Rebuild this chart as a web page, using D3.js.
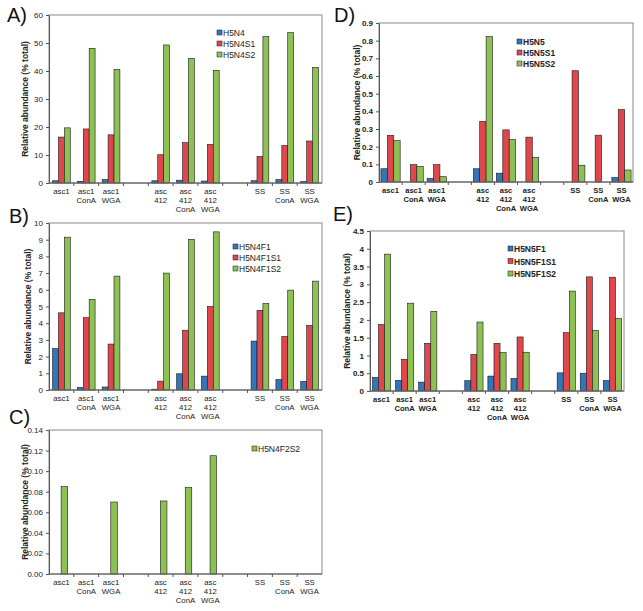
<!DOCTYPE html>
<html>
<head>
<meta charset="utf-8">
<script src="https://cdn.jsdelivr.net/npm/d3@7"></script>
<style>
  body { margin: 0; background: #fff; }
  svg { font-family: "Liberation Sans", Arial, sans-serif; }
</style>
</head>
<body>
<script>
var width = 643;
var height = 611;

// sample slots (empty slots are spacers between sample groups)
var categories = ["asc1", "asc1 ConA", "asc1 WGA", "gap1", "asc 412", "asc 412 ConA", "asc 412 WGA", "gap2", "SS", "SS ConA", "SS WGA"];
var categoryLines = [["asc1"], ["asc1", "ConA"], ["asc1", "WGA"], [], ["asc", "412"], ["asc", "412", "ConA"], ["asc", "412", "WGA"], [], ["SS"], ["SS", "ConA"], ["SS", "WGA"]];

var seriesColors = ["#2f76ba", "#e0474c", "#8dc154"];

// A)
var seriesA = ["H5N4", "H5N4S1", "H5N4S2"];
var h5n4 =   [0.8, 0.6, 1.2, null, 0.8, 1.0, 0.7, null, 0.8, 1.2, 0.5];
var h5n4s1 = [16.4, 19.3, 17.2, null, 10.1, 14.4, 13.8, null, 9.5, 13.4, 15.0];
var h5n4s2 = [19.7, 48.1, 40.6, null, 49.3, 44.5, 40.2, null, 52.3, 53.7, 41.3];
var ticksA = [0, 10, 20, 30, 40, 50, 60];

// B)
var seriesB = ["H5N4F1", "H5N4F1S1", "H5N4F1S2"];
var h5n4f1 =   [2.48, 0.15, 0.18, null, 0.05, 0.97, 0.83, null, 2.93, 0.62, 0.52];
var h5n4f1s1 = [4.62, 4.33, 2.75, null, 0.53, 3.58, 5.0, null, 4.77, 3.2, 3.87];
var h5n4f1s2 = [9.15, 5.42, 6.82, null, 7.0, 9.02, 9.47, null, 5.18, 5.98, 6.52];
var ticksB = [0, 1, 2, 3, 4, 5, 6, 7, 8, 9, 10];

// C)
var seriesC = ["H5N4F2S2"];
var h5n4f2s2 = [0.085, null, 0.070, null, 0.071, 0.084, 0.115, null, null, null, null];
var ticksC = [0, 0.02, 0.04, 0.06, 0.08, 0.10, 0.12, 0.14];

// D)
var seriesD = ["H5N5", "H5N5S1", "H5N5S2"];
var h5n5 =   [0.075, 0, 0.02, null, 0.075, 0.05, 0, null, 0, 0, 0.025];
var h5n5s1 = [0.264, 0.098, 0.098, null, 0.343, 0.295, 0.254, null, 0.63, 0.265, 0.41];
var h5n5s2 = [0.234, 0.088, 0.03, null, 0.823, 0.24, 0.14, null, 0.095, 0, 0.068];
var ticksD = [0, 0.1, 0.2, 0.3, 0.4, 0.5, 0.6, 0.7, 0.8, 0.9];

// E)
var seriesE = ["H5N5F1", "H5N5F1S1", "H5N5F1S2"];
var h5n5f1 =   [0.38, 0.3, 0.25, null, 0.29, 0.42, 0.35, null, 0.51, 0.5, 0.29];
var h5n5f1s1 = [1.87, 0.89, 1.34, null, 1.03, 1.34, 1.52, null, 1.64, 3.21, 3.2];
var h5n5f1s2 = [3.85, 2.47, 2.24, null, 1.94, 1.08, 1.09, null, 2.81, 1.7, 2.04];
var ticksE = [0, 0.5, 1, 1.5, 2, 2.5, 3, 3.5, 4, 4.5];

var svg = d3.select("body")
            .append("svg")
            .attr("width", width)
            .attr("height", height);

var drawPanel = function(p) {
  var x = d3.scaleBand().domain(categories).range([p.left, p.right]);
  var y = d3.scaleLinear().domain([0, p.max]).range([p.bottom, p.top]);
  var inner = d3.scaleBand().domain(p.series)
                .range([0, x.bandwidth()])
                .paddingOuter(p.pad);
  var g = svg.append("g");

  // bars
  p.series.forEach(function(s, si) {
    var vals = p.values[si];
    g.selectAll(null)
      .data(categories.filter(function(c, i) { return vals[i] !== null && vals[i] > 0; }))
      .enter().append("rect")
      .attr("x", function(c) { return x(c) + inner(s) + (p.shift || 0); })
      .attr("y", function(c) { return y(vals[categories.indexOf(c)]); })
      .attr("width", inner.bandwidth())
      .attr("height", function(c) { return p.bottom - y(vals[categories.indexOf(c)]); })
      .style("fill", p.colors[si])
      .style("stroke", "#1a1a1a")
      .style("stroke-width", 0.6);
  });

  // frame
  g.append("rect")
    .attr("x", p.left).attr("y", p.top)
    .attr("width", p.right - p.left).attr("height", p.bottom - p.top)
    .style("fill", "none").style("stroke", "#8a8a8a").style("stroke-width", 1);

  // y axis
  var yAxis = d3.axisLeft(y).tickValues(p.ticks).tickSize(3).tickSizeOuter(0).tickFormat(p.fmt);
  var ya = g.append("g").attr("transform", "translate(" + p.left + ",0)").call(yAxis);
  ya.select(".domain").attr("stroke", "#555");
  ya.selectAll(".tick line").attr("stroke", "#555");
  ya.selectAll("text").style("font-size", "8px").style("fill", "#222")
    .style("font-weight", p.bold ? "bold" : "normal");

  // x axis line + ticks between categories
  g.append("line")
    .attr("x1", p.left).attr("x2", p.right)
    .attr("y1", p.bottom).attr("y2", p.bottom)
    .style("stroke", "#555");
  g.selectAll(null)
    .data(categories.slice(1))
    .enter().append("line")
    .attr("x1", function(c) { return x(c); })
    .attr("x2", function(c) { return x(c); })
    .attr("y1", p.bottom).attr("y2", p.bottom + 3)
    .style("stroke", "#555");

  // category labels, one text per line
  categories.forEach(function(c, i) {
    categoryLines[i].forEach(function(line, li) {
      g.append("text")
        .attr("x", x(c) + x.bandwidth() / 2)
        .attr("y", p.bottom + 11 + li * 9)
        .attr("text-anchor", "middle")
        .style("font-size", p.bold ? "7.6px" : "7.8px")
        .style("fill", "#222")
        .style("font-weight", p.bold ? "bold" : "normal")
        .text(line);
    });
  });

  // y label
  g.append("text")
    .attr("transform", "translate(" + p.ylabelX + "," + ((p.top + p.bottom) / 2) + ") rotate(-90)")
    .attr("text-anchor", "middle")
    .style("font-size", "8.5px")
    .style("font-weight", "bold")
    .style("fill", "#222")
    .text("Relative abundance (% total)");

  // panel letter
  g.append("text")
    .attr("x", p.letterX).attr("y", p.letterY)
    .style("font-size", "20px")
    .style("fill", "#111")
    .text(p.letter);

  // legend
  p.series.forEach(function(s, si) {
    var ly = p.legendY + si * p.legendStep;
    g.append("rect")
      .attr("x", p.legendX).attr("y", ly - 3)
      .attr("width", 5).attr("height", 5)
      .style("fill", p.colors[si])
      .style("stroke", "#1a1a1a").style("stroke-width", 0.5);
    g.append("text")
      .attr("x", p.legendX + 6).attr("y", ly + 3)
      .style("font-size", "8.5px")
      .style("font-weight", p.bold ? "bold" : "normal")
      .style("fill", "#222")
      .text(s);
  });
};

var plainFmt = function(d) { return String(d); };

drawPanel({
  letter: "A)", letterX: 7, letterY: 22,
  left: 49, right: 322, top: 15, bottom: 183, max: 60,
  ticks: ticksA, fmt: plainFmt, pad: 0.6, bold: false, ylabelX: 28,
  series: seriesA, values: [h5n4, h5n4s1, h5n4s2], colors: seriesColors,
  legendX: 217, legendY: 33, legendStep: 11
});

drawPanel({
  letter: "B)", letterX: 9, letterY: 223,
  left: 49, right: 322, top: 223, bottom: 390, max: 10,
  ticks: ticksB, fmt: plainFmt, pad: 0.6, bold: false, ylabelX: 31,
  series: seriesB, values: [h5n4f1, h5n4f1s1, h5n4f1s2], colors: seriesColors,
  legendX: 233, legendY: 247, legendStep: 11
});

drawPanel({
  letter: "C)", letterX: 9, letterY: 424,
  left: 49, right: 322, top: 430, bottom: 574, max: 0.14,
  ticks: ticksC, fmt: d3.format(".2f"), pad: 1.4, bold: false, ylabelX: 28, shift: 3,
  series: seriesC, values: [h5n4f2s2], colors: [seriesColors[2]],
  legendX: 252, legendY: 449, legendStep: 11
});

drawPanel({
  letter: "D)", letterX: 334, letterY: 22,
  left: 379, right: 633, top: 23, bottom: 182, max: 0.9,
  ticks: ticksD, fmt: plainFmt, pad: 0.3, bold: true, ylabelX: 360,
  series: seriesD, values: [h5n5, h5n5s1, h5n5s2], colors: seriesColors,
  legendX: 517, legendY: 42, legendStep: 11
});

drawPanel({
  letter: "E)", letterX: 333, letterY: 221,
  left: 370, right: 624, top: 231, bottom: 391, max: 4.5,
  ticks: ticksE, fmt: plainFmt, pad: 0.4, bold: true, ylabelX: 350,
  series: seriesE, values: [h5n5f1, h5n5f1s1, h5n5f1s2], colors: seriesColors,
  legendX: 508, legendY: 249, legendStep: 12.5
});
</script>
</body>
</html>
